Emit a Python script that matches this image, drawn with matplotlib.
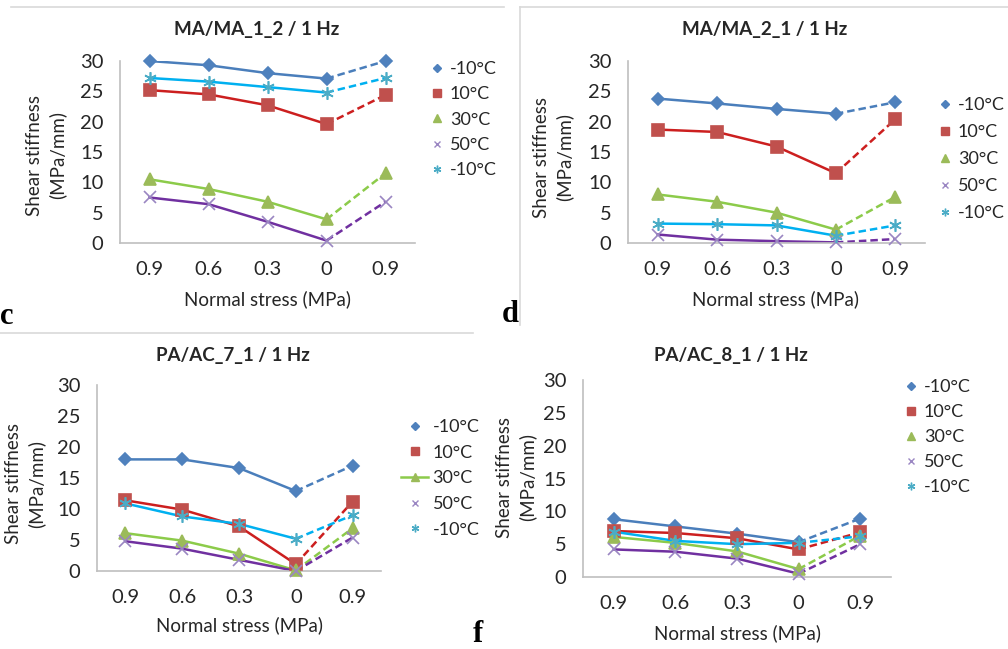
import matplotlib
matplotlib.use("Agg")
import matplotlib.pyplot as plt
from matplotlib.lines import Line2D

W, H = 1008, 649
plt.rcParams['font.family'] = ['Lato', 'DejaVu Sans']

categories = ["0.9", "0.6", "0.3", "0", "0.9"]
series_labels = ["-10°C", "10°C", "30°C", "50°C", "-10°C"]

titles = ["MA/MA_1_2 / 1 Hz", "MA/MA_2_1 / 1 Hz", "PA/AC_7_1 / 1 Hz", "PA/AC_8_1 / 1 Hz"]

# panel c : MA/MA_1_2
c_m10 = [30.0, 29.3, 28.0, 27.1, 30.0]
c_10 = [25.2, 24.5, 22.7, 19.6, 24.4]
c_30 = [10.5, 8.9, 6.8, 3.9, 11.5]
c_50 = [7.5, 6.4, 3.5, 0.4, 6.8]
c_m10b = [27.2, 26.6, 25.7, 24.8, 27.2]
# panel d : MA/MA_2_1
d_m10 = [23.8, 23.0, 22.1, 21.3, 23.2]
d_10 = [18.7, 18.3, 15.9, 11.5, 20.4]
d_30 = [8.0, 6.8, 5.0, 2.2, 7.6]
d_50 = [1.4, 0.55, 0.3, 0.1, 0.65]
d_m10b = [3.2, 3.1, 2.9, 1.2, 2.9]
# panel e : PA/AC_7_1
e_m10 = [18.0, 18.0, 16.6, 12.9, 17.0]
e_10 = [11.4, 9.9, 7.2, 1.1, 11.2]
e_30 = [6.1, 4.9, 2.8, 0.1, 6.9]
e_50 = [4.8, 3.6, 1.8, 0.0, 5.4]
e_m10b = [10.9, 8.8, 7.6, 5.2, 9.0]
# panel f : PA/AC_8_1
f_m10 = [8.8, 7.7, 6.6, 5.3, 8.9]
f_10 = [7.0, 6.7, 5.9, 4.2, 6.8]
f_30 = [6.1, 5.2, 3.9, 1.2, 6.3]
f_50 = [4.2, 3.85, 2.8, 0.5, 5.0]
f_m10b = [6.9, 5.5, 5.0, 5.2, 6.2]

panels_data = [
    [c_m10, c_10, c_30, c_50, c_m10b],
    [d_m10, d_10, d_30, d_50, d_m10b],
    [e_m10, e_10, e_30, e_50, e_m10b],
    [f_m10, f_10, f_30, f_50, f_m10b],
]

line_colors = ['#4A7EBB', '#CC1F1F', '#8CCB4A', '#7030A0', '#00B0F0']
marker_colors = ['#4F81BD', '#C0504D', '#9BBB59', '#9A86C2', '#4BACC6']
markers = ['D', 's', '^', 'x', (6, 2, 0)]
msizes = [6, 9, 9, 8, 9]
leg_msizes = [4, 5.5, 5.5, 5, 5.5]

# axes boxes in pixels: left, right, top(y=30), bottom(y=0)
boxes = [(120, 415, 61, 243), (628, 925, 61, 243), (97, 381, 385, 571), (583, 891, 380, 577)]
ylabel_pos = [(46, 155), (553, 157), (25, 484), (516, 477)]
title_pos = [(257, 30), (765, 30), (233, 355), (731, 355)]
xlabel_pos = [(268, 299), (776, 299), (239, 625), (737, 633)]
legend_pos = [(429, 61), (937, 97), (401, 419), (903, 379)]
legend_spacing = [27.3, 29.0, 27.7, 27.0]

fig = plt.figure(figsize=(W / 100, H / 100), dpi=100)

def fx(x):
    return x / W

def fy(y):
    return 1 - y / H

grey = '#D9D9D9'
for (x0, y0, x1, y1) in [(11, 7, 504, 7), (520, 7, 1008, 7), (520, 7, 520, 325), (0, 333, 473, 333)]:
    fig.add_artist(Line2D([fx(x0), fx(x1)], [fy(y0), fy(y1)], color=grey, lw=1.2))

x = list(range(len(categories)))
for p, data in enumerate(panels_data):
    l, r, t, b = boxes[p]
    ax = fig.add_axes([fx(l), fy(b), (r - l) / W, (b - t) / H])
    for i, ys in enumerate(data):
        ax.plot(x[:4], ys[:4], color=line_colors[i], lw=1.8, zorder=2 + i * 0.1)
        ax.plot(x[3:], ys[3:], color=line_colors[i], lw=1.8, ls=(0, (3, 1.6)), zorder=2 + i * 0.1)
        ax.plot(x, ys, ls='none', marker=markers[i], ms=msizes[i],
                color=marker_colors[i], mec=marker_colors[i], mew=1.2,
                zorder=3 + i * 0.1, clip_on=False)
    ax.set_xlim(-0.5, 4.5)
    ax.set_ylim(0, 30)
    ax.set_yticks([0, 5, 10, 15, 20, 25, 30])
    ax.set_xticks(x)
    ax.set_xticklabels(categories)
    ax.tick_params(axis='both', length=0, labelsize=14.5, colors='#262626')
    ax.tick_params(axis='x', pad=13)
    ax.tick_params(axis='y', pad=12)
    for s in ['top', 'right']:
        ax.spines[s].set_visible(False)
    for s in ['left', 'bottom']:
        ax.spines[s].set_color('#BFBFBF')
        ax.spines[s].set_linewidth(1.2)
    ax.patch.set_alpha(0)

    tx, ty = title_pos[p]
    fig.text(fx(tx), fy(ty), titles[p], ha='center', va='center', fontsize=13.5,
             fontweight='bold', color='#262626')
    lx, ly = xlabel_pos[p]
    fig.text(fx(lx), fy(ly), "Normal stress (MPa)", ha='center', va='center', fontsize=13.5,
             color='#262626')
    yx, yy = ylabel_pos[p]
    fig.text(fx(yx), fy(yy), "Shear stiffness\n(MPa/mm)", ha='center', va='center',
             fontsize=13.5, rotation=90, color='#262626', linespacing=1.35)

    # legend
    handles = []
    for i in range(5):
        if p == 2 and i == 2:
            h = Line2D([], [], color=line_colors[i], lw=1.8, marker=markers[i], ms=6,
                       mfc=marker_colors[i], mec=marker_colors[i])
        else:
            h = Line2D([], [], ls='none', marker=markers[i], ms=leg_msizes[i],
                       color=marker_colors[i], mec=marker_colors[i], mew=1.0)
        handles.append(h)
    gx, gy = legend_pos[p]
    leg = fig.legend(handles, series_labels, loc='upper left',
                     bbox_to_anchor=(fx(gx), fy(gy)), frameon=False, fontsize=13,
                     handlelength=0.9 if not p == 2 else 1.5, handletextpad=0.25,
                     borderaxespad=0, borderpad=0,
                     labelspacing=(legend_spacing[p] - 18) / 13 / (100 / 72))
    for txt in leg.get_texts():
        txt.set_color('#262626')

for lab, (lx, ly) in zip(["c", "d", "f"], [(7, 316), (510, 314), (478, 635)]):
    fig.text(fx(lx), fy(ly), lab, ha='center', va='center', fontsize=22,
             fontweight='bold', family='Liberation Serif', color='black')

fig.savefig("out.png", dpi=100)
